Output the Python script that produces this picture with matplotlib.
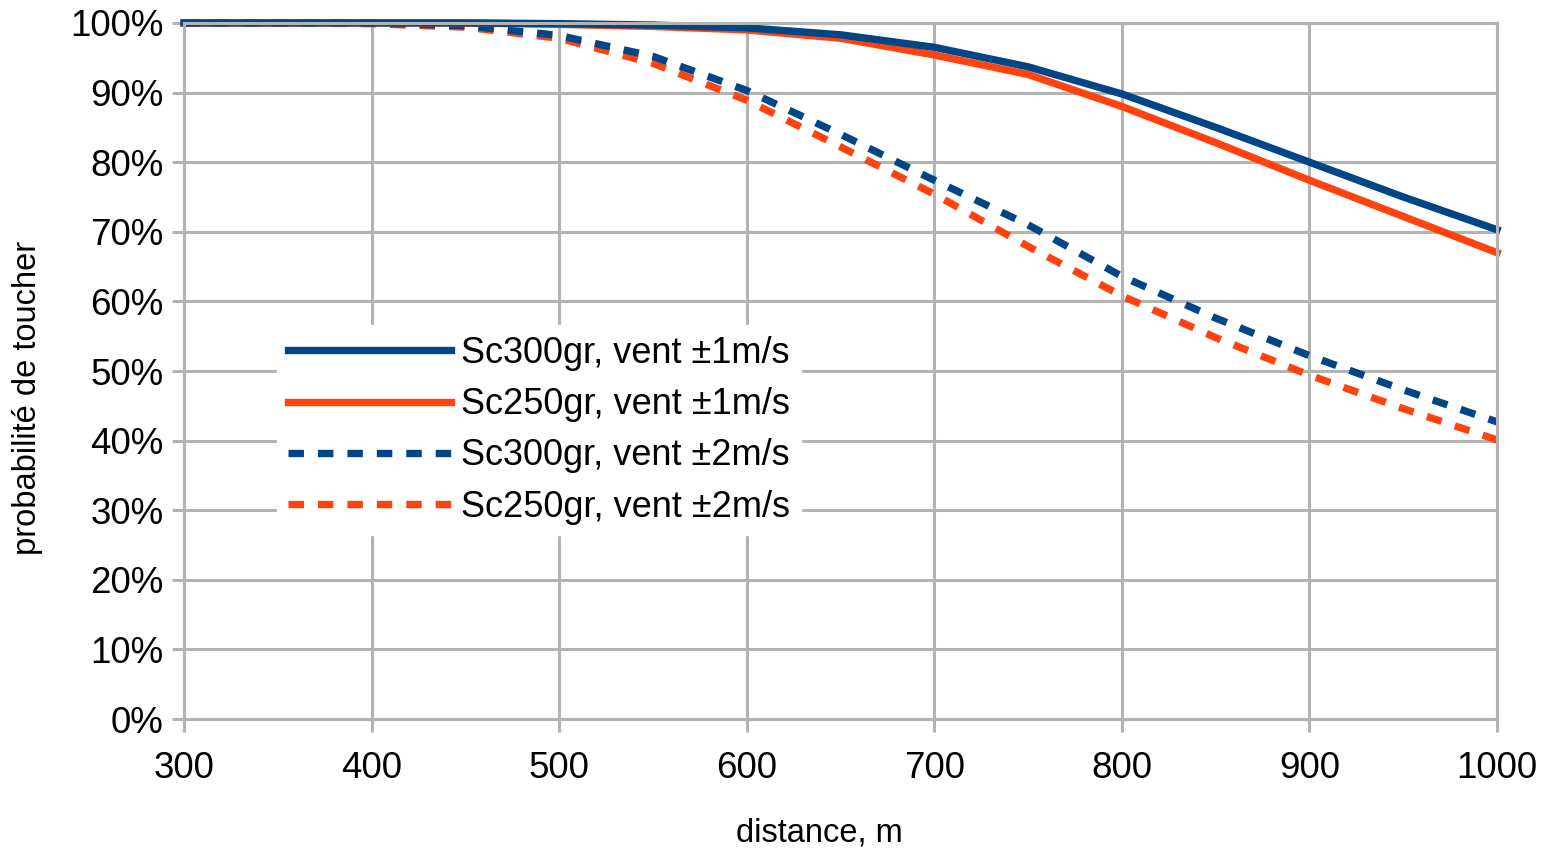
import matplotlib
matplotlib.use("Agg")
import matplotlib.pyplot as plt
import matplotlib.ticker as ticker

# distance (m) and hit probability (%)
distance = [300, 350, 400, 450, 500, 550, 600, 650, 700, 750, 800, 850, 900, 950, 1000]
sc300_v1 = [100, 100, 100, 100, 99.9, 99.7, 99.3, 98.3, 96.5, 93.7, 89.8, 85.0, 80.0, 75.0, 70.3]
sc250_v1 = [100, 100, 100, 100, 99.8, 99.5, 99.0, 97.8, 95.4, 92.6, 88.0, 82.8, 77.4, 72.2, 67.0]
sc300_v2 = [100, 100, 100, 99.6, 98.2, 95.2, 90.3, 84.0, 77.4, 71.0, 63.6, 57.6, 52.2, 47.3, 42.7]
sc250_v2 = [100, 100, 99.9, 99.4, 97.8, 94.2, 88.9, 82.2, 75.4, 67.9, 60.8, 54.8, 49.4, 44.6, 40.1]

labels = ["Sc300gr, vent ±1m/s", "Sc250gr, vent ±1m/s",
          "Sc300gr, vent ±2m/s", "Sc250gr, vent ±2m/s"]

BLUE = "#004586"
ORANGE = "#ff420e"
GRID = "#b3b3b3"

plt.rcParams["font.family"] = ["Liberation Sans", "DejaVu Sans"]

fig = plt.figure(figsize=(15.47, 8.5), dpi=100)
ax = fig.add_axes([0.119, 0.154, 0.8487, 0.819])

dash = (2.1, 1.9)
l4, = ax.plot(distance, sc250_v2, color=ORANGE, lw=5.3, dashes=dash,
              dash_capstyle="butt", clip_on=False)
l3, = ax.plot(distance, sc300_v2, color=BLUE, lw=5.3, dashes=dash,
              dash_capstyle="butt", clip_on=False)
l2, = ax.plot(distance, sc250_v1, color=ORANGE, lw=5.3, clip_on=False)
l1, = ax.plot(distance, sc300_v1, color=BLUE, lw=5.3, clip_on=False)

ax.set_xlim(300, 1000)
ax.set_ylim(0, 100)
ax.xaxis.set_major_locator(ticker.MultipleLocator(100))
ax.yaxis.set_major_locator(ticker.MultipleLocator(10))
ax.yaxis.set_major_formatter(ticker.FuncFormatter(lambda v, p: f"{v:.0f}%"))
ax.grid(True, color=GRID, lw=2.2)
ax.set_axisbelow(True)
for s in ax.spines.values():
    s.set_color(GRID)
    s.set_linewidth(2.2)
ax.tick_params(colors=GRID, labelcolor="black", labelsize=26.5, length=9,
               width=2.2)
ax.tick_params(axis="x", pad=14)
ax.tick_params(axis="y", pad=6)

ax.set_xlabel("distance, m", fontsize=23.5, va="center")
ax.xaxis.set_label_coords(0.484, -0.164)
ax.set_ylabel("probabilité de toucher", fontsize=23.5, va="center")
ax.yaxis.set_label_coords(-0.119, 0.461)

leg = ax.legend([l1, l2, l3, l4], labels, loc="upper left",
                bbox_to_anchor=(0.071, 0.566), borderaxespad=0,
                fontsize=26, frameon=True, fancybox=False, framealpha=1,
                edgecolor="white", handlelength=4.5, handletextpad=0.3,
                labelspacing=0.45, borderpad=0.3)

fig.savefig("out.png", dpi=100)
